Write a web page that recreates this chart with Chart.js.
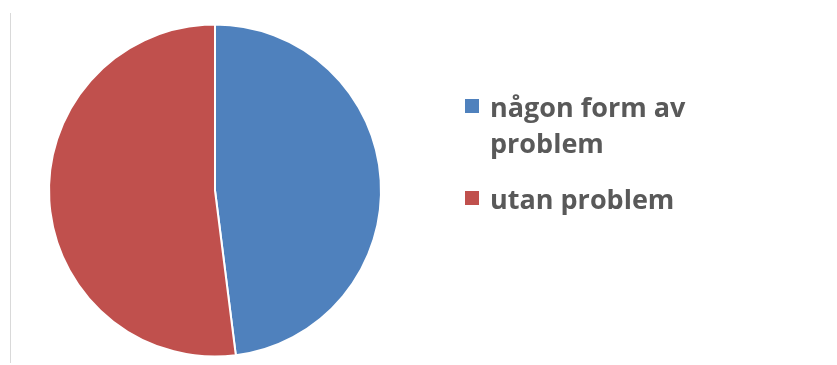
<!DOCTYPE html>
<html>
<head>
<meta charset="utf-8">
<script src="https://cdn.jsdelivr.net/npm/chart.js@4/dist/chart.umd.min.js"></script>
<style>
  html, body { margin: 0; padding: 0; background: #ffffff; }
  #wrap { width: 837px; height: 365px; position: relative; }
</style>
</head>
<body>
<div id="wrap"><canvas id="c" width="837" height="365"></canvas></div>
<script>
// Andel med respektive utan problem
const categories = ['någon form av problem', 'utan problem'];
const shares = [48, 52];
const sliceColors = ['#4F81BD', '#C0504D'];

// Tunn grå linje längs vänsterkanten
const frameLine = {
  id: 'frameLine',
  beforeDraw(chart) {
    const ctx = chart.ctx;
    ctx.save();
    ctx.strokeStyle = '#d9d9d9';
    ctx.lineWidth = 1;
    ctx.beginPath();
    ctx.moveTo(10.5, 13);
    ctx.lineTo(10.5, 363);
    ctx.stroke();
    ctx.restore();
  }
};

// Förklaring till höger med radbrytning
const sideLegend = {
  id: 'sideLegend',
  afterDraw(chart) {
    const ctx = chart.ctx;
    const labels = chart.data.labels;
    const colors = chart.data.datasets[0].backgroundColor;
    const font = 'bold 27px "Open Sans", "Liberation Sans", sans-serif';
    const textX = 490, boxX = 465, box = 14;
    const maxW = 205, lineH = 36, itemGap = 20;
    ctx.save();
    ctx.font = font;
    ctx.textBaseline = 'alphabetic';
    let baseline = 117;
    labels.forEach((label, i) => {
      // dela upp texten i rader
      const words = label.split(' ');
      const lines = [];
      let cur = '';
      words.forEach(w => {
        const test = cur ? cur + ' ' + w : w;
        if (ctx.measureText(test).width > maxW && cur) { lines.push(cur); cur = w; }
        else cur = test;
      });
      if (cur) lines.push(cur);
      ctx.fillStyle = colors[i];
      ctx.fillRect(boxX, baseline - 18, box, box);
      ctx.fillStyle = '#595959';
      lines.forEach((ln, j) => ctx.fillText(ln, textX, baseline + j * lineH));
      baseline += (lines.length - 1) * lineH + lineH + itemGap;
    });
    ctx.restore();
  }
};

new Chart(document.getElementById('c'), {
  type: 'pie',
  data: {
    labels: categories,
    datasets: [{
      data: shares,
      backgroundColor: sliceColors,
      borderColor: '#ffffff',
      borderWidth: 2
    }]
  },
  options: {
    responsive: false,
    animation: false,
    layout: { padding: { left: 48, right: 455, top: 23.5, bottom: 7.5 } },
    plugins: {
      legend: { display: false },
      tooltip: { enabled: false }
    }
  },
  plugins: [frameLine, sideLegend]
});
</script>
</body>
</html>
